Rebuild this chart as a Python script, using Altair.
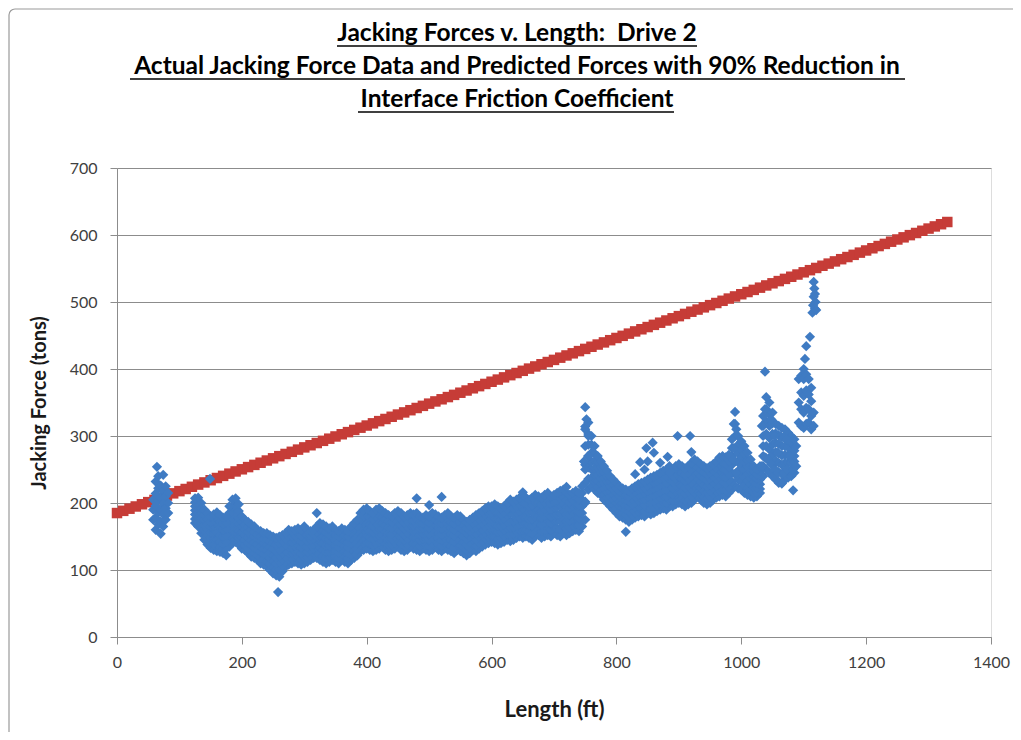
import altair as alt
import pandas as pd

# ---------------- Data ----------------
# Predicted forces (90% reduction in interface friction), red squares
pred_length_ft = [
    0, 10, 20, 30, 40, 50, 60, 70, 80, 90,
    100, 110, 120, 130, 140, 150, 160, 170, 180, 190,
    200, 210, 220, 230, 240, 250, 260, 270, 280, 290,
    300, 310, 320, 330, 340, 350, 360, 370, 380, 390,
    400, 410, 420, 430, 440, 450, 460, 470, 480, 490,
    500, 510, 520, 530, 540, 550, 560, 570, 580, 590,
    600, 610, 620, 630, 640, 650, 660, 670, 680, 690,
    700, 710, 720, 730, 740, 750, 760, 770, 780, 790,
    800, 810, 820, 830, 840, 850, 860, 870, 880, 890,
    900, 910, 920, 930, 940, 950, 960, 970, 980, 990,
    1000, 1010, 1020, 1030, 1040, 1050, 1060, 1070, 1080, 1090,
    1100, 1110, 1120, 1130, 1140, 1150, 1160, 1170, 1180, 1190,
    1200, 1210, 1220, 1230, 1240, 1250, 1260, 1270, 1280, 1290,
    1300, 1310, 1320, 1330,
]
pred_force_tons = [
    185.0, 188.3, 191.5, 194.8, 198.1, 201.3, 204.6, 207.9, 211.1, 214.4,
    217.7, 220.9, 224.2, 227.5, 230.7, 234.0, 237.3, 240.5, 243.8, 247.1,
    250.3, 253.6, 256.9, 260.1, 263.4, 266.7, 269.9, 273.2, 276.4, 279.7,
    283.0, 286.2, 289.5, 292.8, 296.0, 299.3, 302.6, 305.8, 309.1, 312.4,
    315.6, 318.9, 322.2, 325.4, 328.7, 332.0, 335.2, 338.5, 341.8, 345.0,
    348.3, 351.6, 354.8, 358.1, 361.4, 364.6, 367.9, 371.2, 374.4, 377.7,
    381.0, 384.2, 387.5, 390.8, 394.0, 397.3, 400.6, 403.8, 407.1, 410.4,
    413.6, 416.9, 420.2, 423.4, 426.7, 430.0, 433.2, 436.5, 439.7, 443.0,
    446.3, 449.5, 452.8, 456.1, 459.3, 462.6, 465.9, 469.1, 472.4, 475.7,
    478.9, 482.2, 485.5, 488.7, 492.0, 495.3, 498.5, 501.8, 505.1, 508.3,
    511.6, 514.9, 518.1, 521.4, 524.7, 527.9, 531.2, 534.5, 537.7, 541.0,
    544.3, 547.5, 550.8, 554.1, 557.3, 560.6, 563.9, 567.1, 570.4, 573.7,
    576.9, 580.2, 583.5, 586.7, 590.0, 593.3, 596.5, 599.8, 603.0, 606.3,
    609.6, 612.8, 616.1, 619.4,
]

# Actual jacking force data (blue diamonds): read column by column,
# seven readings per column from the lower edge (r0) to the upper edge (r6)
actual_length_ft = [
    125, 130, 135, 140, 145, 150, 155, 160, 165, 170,
    175, 180, 185, 190, 195, 200, 205, 210, 215, 220,
    225, 230, 235, 240, 245, 250, 255, 260, 265, 270,
    275, 280, 285, 290, 295, 300, 305, 310, 315, 320,
    325, 330, 335, 340, 345, 350, 355, 360, 365, 370,
    375, 380, 385, 390, 395, 400, 405, 410, 415, 420,
    425, 430, 435, 440, 445, 450, 455, 460, 465, 470,
    475, 480, 485, 490, 495, 500, 505, 510, 515, 520,
    525, 530, 535, 540, 545, 550, 555, 560, 565, 570,
    575, 580, 585, 590, 595, 600, 605, 610, 615, 620,
    625, 630, 635, 640, 645, 650, 655, 660, 665, 670,
    675, 680, 685, 690, 695, 700, 705, 710, 715, 720,
    725, 730, 735, 740, 745, 750, 755, 760, 765, 770,
    775, 780, 785, 790, 795, 800, 805, 810, 815, 820,
    825, 830, 835, 840, 845, 850, 855, 860, 865, 870,
    875, 880, 885, 890, 895, 900, 905, 910, 915, 920,
    925, 930, 935, 940, 945, 950, 955, 960, 965, 970,
    975, 980, 985, 990, 995, 1000, 1005, 1010, 1015, 1020,
    1025, 1030, 1035, 1040, 1045, 1050, 1055, 1060, 1065, 1070,
    1075, 1080, 1085,
]
force_r0 = [
    170, 165, 155, 145, 138, 133, 130, 128, 127, 125,
    122, 135, 140, 142, 138, 132, 130, 125, 120, 118,
    115, 110, 108, 105, 100, 95, 92, 90, 98, 105,
    108, 110, 112, 110, 108, 110, 112, 115, 118, 118,
    115, 112, 110, 112, 115, 112, 110, 115, 112, 110,
    115, 118, 122, 128, 130, 132, 130, 128, 130, 132,
    135, 130, 128, 130, 132, 135, 130, 128, 130, 135,
    132, 130, 128, 132, 130, 128, 130, 135, 130, 128,
    132, 130, 128, 125, 130, 128, 125, 122, 125, 130,
    128, 132, 135, 138, 140, 142, 140, 138, 140, 142,
    145, 143, 145, 148, 150, 148, 150, 148, 145, 150,
    152, 148, 150, 152, 150, 155, 152, 150, 155, 152,
    155, 158, 160, 158, 165, 175, 220, 225, 220, 215,
    212, 205, 200, 195, 190, 185, 180, 178, 175, 172,
    175, 178, 180, 182, 180, 185, 183, 185, 188, 190,
    192, 190, 195, 195, 198, 200, 198, 195, 198, 200,
    205, 210, 205, 200, 198, 200, 205, 208, 210, 212,
    210, 215, 220, 225, 222, 220, 215, 212, 210, 208,
    210, 215, 240, 250, 245, 240, 235, 232, 230, 235,
    238, 240, 245,
]
force_r1 = [
    176, 171, 162, 152, 145, 140, 138, 136, 134, 132,
    132, 143, 150, 152, 148, 140, 137, 132, 128, 125,
    122, 118, 116, 113, 109, 104, 101, 101, 107, 112,
    116, 118, 120, 119, 116, 119, 119, 122, 125, 126,
    124, 121, 119, 120, 122, 120, 118, 122, 120, 118,
    123, 126, 131, 137, 140, 142, 139, 137, 140, 142,
    143, 139, 137, 138, 141, 144, 139, 136, 138, 143,
    140, 139, 136, 139, 138, 136, 139, 143, 138, 136,
    140, 139, 136, 134, 138, 136, 133, 130, 133, 138,
    137, 141, 144, 147, 149, 151, 149, 147, 148, 151,
    154, 153, 154, 157, 159, 159, 159, 157, 155, 160,
    161, 158, 160, 162, 160, 164, 162, 161, 166, 162,
    164, 167, 169, 167, 175, 202, 236, 237, 231, 224,
    220, 213, 208, 202, 197, 192, 187, 185, 182, 179,
    182, 186, 188, 190, 188, 193, 192, 194, 197, 199,
    201, 200, 205, 204, 207, 209, 207, 204, 207, 210,
    215, 218, 214, 209, 207, 209, 214, 217, 219, 221,
    219, 224, 232, 243, 235, 232, 226, 222, 219, 216,
    216, 221, 255, 267, 262, 256, 249, 246, 243, 247,
    249, 250, 253,
]
force_r2 = [
    183, 178, 170, 160, 152, 148, 147, 145, 142, 140,
    142, 152, 160, 163, 158, 148, 145, 140, 137, 133,
    130, 127, 124, 122, 118, 113, 110, 112, 116, 120,
    125, 126, 128, 128, 125, 128, 127, 130, 132, 134,
    134, 130, 128, 128, 130, 128, 126, 130, 128, 126,
    132, 135, 140, 146, 150, 152, 149, 147, 150, 152,
    152, 148, 146, 146, 150, 153, 148, 145, 147, 152,
    149, 148, 145, 147, 147, 145, 148, 151, 147, 145,
    148, 148, 145, 143, 147, 145, 142, 138, 142, 146,
    146, 150, 153, 156, 158, 160, 159, 157, 157, 160,
    163, 163, 164, 167, 169, 170, 169, 167, 166, 170,
    171, 168, 171, 173, 170, 174, 173, 173, 177, 173,
    174, 177, 179, 177, 185, 230, 253, 250, 242, 233,
    229, 222, 216, 210, 205, 200, 195, 193, 190, 187,
    190, 194, 196, 198, 197, 202, 201, 203, 206, 208,
    211, 210, 215, 213, 217, 219, 217, 214, 217, 220,
    225, 227, 223, 218, 216, 218, 223, 226, 229, 231,
    229, 234, 245, 262, 248, 244, 238, 233, 228, 224,
    223, 228, 270, 285, 280, 272, 263, 260, 257, 260,
    260, 260, 262,
]
force_r3 = [
    189, 186, 177, 167, 160, 156, 156, 156, 152, 150,
    152, 163, 171, 174, 168, 156, 152, 148, 144, 141,
    138, 135, 132, 130, 126, 122, 119, 121, 125, 129,
    134, 134, 136, 137, 134, 137, 135, 137, 139, 142,
    143, 140, 137, 136, 139, 136, 134, 138, 136, 134,
    140, 143, 149, 155, 160, 162, 158, 156, 160, 162,
    161, 157, 155, 154, 159, 161, 157, 153, 156, 160,
    157, 157, 153, 155, 156, 154, 157, 159, 155, 153,
    156, 157, 154, 151, 156, 154, 150, 146, 150, 154,
    155, 159, 161, 165, 167, 168, 168, 166, 166, 168,
    172, 173, 173, 176, 178, 180, 178, 176, 176, 180,
    180, 178, 181, 183, 180, 183, 183, 184, 188, 183,
    183, 186, 188, 186, 195, 257, 270, 262, 252, 242,
    237, 230, 224, 217, 212, 207, 202, 200, 197, 195,
    198, 201, 204, 206, 206, 210, 210, 212, 215, 217,
    220, 220, 225, 222, 226, 229, 226, 223, 226, 230,
    235, 236, 231, 227, 225, 227, 231, 235, 239, 241,
    239, 243, 257, 281, 261, 256, 250, 243, 237, 231,
    230, 235, 285, 303, 297, 287, 276, 274, 271, 272,
    271, 270, 270,
]
force_r4 = [
    195, 194, 185, 175, 168, 165, 166, 168, 163, 160,
    162, 175, 183, 186, 178, 165, 160, 157, 152, 150,
    146, 143, 140, 138, 135, 132, 128, 130, 135, 138,
    143, 142, 145, 146, 143, 147, 144, 145, 147, 150,
    152, 150, 147, 145, 148, 144, 142, 146, 144, 142,
    148, 152, 158, 165, 170, 172, 168, 166, 170, 172,
    170, 167, 164, 163, 168, 170, 167, 162, 165, 168,
    166, 167, 162, 163, 165, 163, 167, 167, 163, 162,
    165, 167, 163, 160, 165, 163, 158, 155, 158, 162,
    164, 168, 170, 174, 177, 177, 178, 176, 175, 177,
    182, 184, 183, 186, 188, 191, 188, 186, 187, 191,
    190, 188, 191, 194, 190, 193, 194, 196, 199, 194,
    193, 196, 198, 196, 205, 285, 287, 275, 263, 252,
    245, 238, 232, 225, 220, 215, 210, 207, 205, 203,
    206, 209, 212, 214, 215, 218, 220, 222, 224, 227,
    229, 230, 235, 232, 236, 239, 236, 233, 236, 240,
    245, 245, 240, 237, 234, 237, 240, 244, 249, 251,
    249, 253, 270, 300, 274, 268, 262, 254, 247, 239,
    237, 242, 300, 322, 315, 303, 290, 288, 285, 285,
    283, 280, 278,
]
force_r5 = [
    201, 201, 192, 182, 176, 172, 174, 177, 172, 169,
    171, 185, 194, 196, 188, 172, 167, 164, 160, 157,
    153, 150, 147, 146, 143, 141, 138, 140, 143, 146,
    151, 150, 152, 154, 151, 156, 152, 151, 153, 157,
    161, 159, 156, 153, 156, 152, 150, 154, 152, 150,
    156, 161, 166, 175, 180, 182, 178, 175, 180, 182,
    179, 176, 173, 171, 176, 179, 176, 171, 173, 176,
    174, 176, 171, 170, 173, 171, 176, 175, 171, 170,
    173, 176, 171, 169, 173, 171, 166, 163, 166, 170,
    173, 176, 179, 183, 186, 186, 188, 185, 183, 186,
    191, 194, 192, 195, 198, 201, 198, 195, 197, 201,
    200, 198, 201, 204, 200, 202, 204, 207, 209, 204,
    202, 205, 208, 205, 215, 314, 303, 287, 274, 261,
    253, 246, 240, 232, 227, 222, 217, 214, 212, 210,
    214, 217, 220, 222, 223, 226, 229, 231, 233, 236,
    238, 240, 245, 241, 245, 248, 245, 242, 245, 250,
    255, 253, 249, 246, 243, 246, 249, 253, 258, 260,
    258, 262, 282, 318, 287, 280, 273, 264, 256, 247,
    243, 248, 315, 340, 332, 319, 304, 301, 298, 297,
    294, 290, 286,
]
force_r6 = [
    207, 208, 200, 190, 185, 180, 183, 186, 182, 178,
    180, 195, 205, 207, 198, 180, 175, 172, 168, 165,
    160, 158, 155, 155, 152, 150, 148, 150, 152, 155,
    160, 158, 160, 162, 160, 165, 160, 158, 160, 165,
    170, 168, 165, 162, 165, 160, 158, 162, 160, 158,
    165, 170, 175, 185, 190, 192, 188, 185, 190, 192,
    188, 185, 182, 180, 185, 188, 185, 180, 182, 185,
    183, 185, 180, 178, 182, 180, 185, 183, 180, 178,
    182, 185, 180, 178, 182, 180, 175, 172, 175, 178,
    182, 185, 188, 192, 195, 195, 198, 195, 192, 195,
    200, 205, 202, 205, 208, 212, 208, 205, 208, 212,
    210, 208, 212, 215, 210, 212, 215, 218, 220, 215,
    212, 215, 218, 215, 225, 343, 320, 300, 285, 270,
    262, 255, 248, 240, 235, 230, 225, 222, 220, 218,
    222, 225, 228, 230, 232, 235, 238, 240, 242, 245,
    248, 250, 255, 250, 255, 258, 255, 252, 255, 260,
    265, 262, 258, 255, 252, 255, 258, 262, 268, 270,
    268, 272, 295, 336, 300, 292, 285, 275, 265, 255,
    250, 255, 330, 358, 350, 335, 318, 315, 312, 310,
    305, 300, 295,
]
# Separate clusters and single readings (length ft, force tons)
extra_points = [
    (58, 175), (58, 190), (58, 205),
    (62, 160), (62, 178), (62, 196), (62, 214), (62, 232),
    (64, 254),
    (66, 168), (66, 186), (66, 204), (66, 222), (66, 240),
    (70, 154), (70, 172), (70, 190), (70, 208), (70, 226),
    (74, 242), (74, 165), (74, 183), (74, 200), (74, 218),
    (78, 175), (78, 192), (78, 210), (78, 225),
    (82, 185), (82, 200), (82, 215),
    (149, 236), (258, 67), (320, 185), (480, 207), (500, 197), (520, 209),
    (650, 216), (720, 224), (815, 157),
    (830, 243), (838, 261), (845, 250), (848, 282), (850, 262), (858, 290),
    (860, 275), (870, 260), (882, 269), (885, 245), (898, 300), (918, 300),
    (920, 276),
    (750, 200), (750, 250), (750, 310), (752, 325), (748, 262), (755, 300),
    (755, 270),
    (988, 318), (988, 282), (992, 245), (992, 310), (987, 265),
    (1033, 255), (1033, 315), (1038, 396), (1038, 268), (1038, 340),
    (1043, 300), (1043, 265), (1048, 258), (1048, 325), (1053, 250),
    (1053, 300), (1058, 245), (1058, 275), (1060, 230), (1063, 300),
    (1065, 229), (1068, 245), (1068, 298), (1073, 250), (1073, 295),
    (1078, 270), (1083, 219), (1083, 250), (1088, 255), (1088, 285),
    (1092, 320), (1092, 350), (1092, 385), (1096, 315), (1096, 340),
    (1096, 365), (1096, 390), (1100, 312), (1100, 335), (1100, 360),
    (1100, 385), (1100, 400), (1104, 318), (1104, 342), (1104, 368),
    (1104, 392), (1108, 320), (1108, 340), (1108, 362), (1108, 385),
    (1112, 310), (1112, 330), (1112, 352), (1112, 372), (1116, 315),
    (1116, 335), (1102, 415), (1104, 434), (1110, 448),
    (1114, 484), (1115, 495), (1116, 508), (1117, 520), (1116, 530),
    (1118, 490), (1119, 500), (1118, 512), (1120, 488),
]

x_ticks = [0, 200, 400, 600, 800, 1000, 1200, 1400]
y_ticks = [0, 100, 200, 300, 400, 500, 600, 700]

title_lines = [
    "Jacking Forces v. Length:\u00a0 Drive 2",
    "Actual Jacking Force Data and Predicted Forces with 90% Reduction in",
    "Interface Friction Coefficient",
]

# ---------------- Tables ----------------
rows = []
for series in (force_r0, force_r1, force_r2, force_r3, force_r4, force_r5, force_r6):
    for x, y in zip(actual_length_ft, series):
        rows.append({"Length": x, "Force": y})
for x, y in extra_points:
    rows.append({"Length": x, "Force": y})
actual = pd.DataFrame(rows)
pred = pd.DataFrame({"Length": pred_length_ft, "Force": pred_force_tons})

BLUE = "#3F7BC3"
RED = "#C63C37"
GRID = "#8C8C8C"
FONT = "Lato"

x_scale = alt.Scale(domain=[0, 1400], nice=False, zero=False)
y_scale = alt.Scale(domain=[0, 700], nice=False)

x_axis = alt.Axis(
    title="Length (ft)", values=x_ticks, grid=False, format="d", labelFlush=False,
    domainColor=GRID, tickColor=GRID, tickSize=7,
    labelFont=FONT, labelFontSize=16, labelColor="#404040", labelPadding=10,
    titleFont=FONT, titleFontSize=22, titleFontWeight="bold", titleColor="#1a1a1a",
    titlePadding=29,
)
y_axis = alt.Axis(
    title="Jacking Force (tons)", values=y_ticks, grid=True, gridColor=GRID,
    domainColor=GRID, tickColor=GRID, tickSize=7, format="d", labelFlush=False,
    labelFont=FONT, labelFontSize=16, labelColor="#404040", labelPadding=13,
    titleFont=FONT, titleFontSize=20, titleFontWeight="bold", titleColor="#1a1a1a",
    titlePadding=20,
)

red = alt.Chart(pred).mark_point(
    shape="square", filled=True, size=110, color=RED, opacity=1, strokeWidth=0
).encode(
    x=alt.X("Length:Q", scale=x_scale, axis=x_axis),
    y=alt.Y("Force:Q", scale=y_scale, axis=y_axis),
)

blue = alt.Chart(actual).mark_point(
    shape="diamond", filled=True, size=105, color=BLUE, opacity=1, strokeWidth=0
).encode(
    x=alt.X("Length:Q", scale=x_scale),
    y=alt.Y("Force:Q", scale=y_scale),
)

dummy = alt.Data(values=[{}])


def title_line(text, ypos):
    return alt.Chart(dummy).mark_text(
        text=text, font=FONT, fontSize=24.5, fontWeight="bold", color="black",
        align="center", baseline="alphabetic",
    ).encode(x=alt.value(400), y=alt.value(ypos))


def underline(x1, x2, ypos):
    return alt.Chart(dummy).mark_rule(color="black", strokeWidth=1.6).encode(
        x=alt.value(x1), x2=alt.value(x2), y=alt.value(ypos))


t1 = title_line(title_lines[0], -127)
t2 = title_line(title_lines[1], -94)
t3 = title_line(title_lines[2], -61)
u1 = underline(220, 580, -122)
u2 = underline(13, 788, -89)
u3 = underline(241, 557, -56)

border = alt.Chart(dummy).mark_rect(
    fill=None, fillOpacity=0, stroke="#9a9a9a", strokeWidth=1.2, cornerRadius=6
).encode(x=alt.value(-108), x2=alt.value(930), y=alt.value(-159), y2=alt.value(578))

chart = alt.layer(
    border, red, blue, t1, t2, t3, u1, u2, u3
).properties(
    width=874,
    height=469,
    autosize=alt.AutoSizeParams(type="none"),
    padding={"left": 109, "top": 160, "right": 22, "bottom": 95},
).configure_view(stroke=None).configure(background="white")

chart.save("out.html", embed_options={"renderer": "svg", "actions": False})
